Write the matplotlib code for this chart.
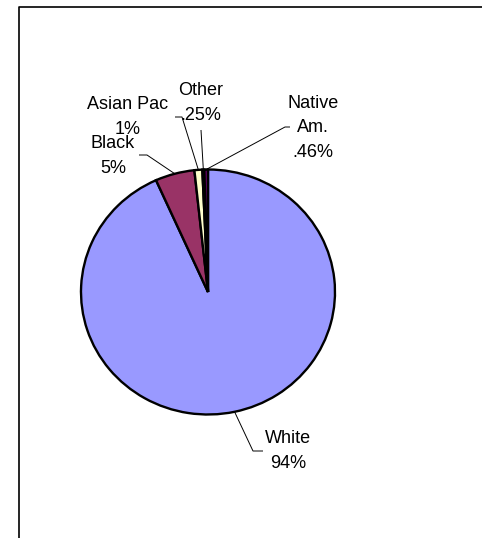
import numpy as np
import matplotlib.pyplot as plt

# -----------------------------
# DATA
# -----------------------------
groups = ["White", "Black", "Asian Pac", "Other", "Native Am."]
shares = [93.3, 5.0, 1.0, 0.25, 0.46]
label_text = ["White\n94%", "Black\n5%", "Asian Pac\n1%", "Other\n.25%", "Native\nAm.\n.46%"]
colors = ["#9999FF", "#993366", "#FFFFCC", "#CCFFFF", "#660066"]

# -----------------------------
# LAYOUT (pixel positions of the label texts and leader elbows)
# -----------------------------
W, H = 482, 538
CX, CY, RX, RY = 208, 292, 127, 122.5

def px(x, y):
    return (x - CX) / RX, (CY - y) / RY

text_pos = [(288, 451), (113, 156), (128, 117), (201, 103), (313, 128)]
elbows = [[(253, 451), (263, 451)],
          [(147, 155), (139, 155)],
          [(182, 117), (175, 117)],
          [(201, 130)],
          [(285, 127), (290, 127)]]

plt.rcParams['font.family'] = ['Liberation Sans', 'DejaVu Sans']

fig = plt.figure(figsize=(W / 100, H / 100), dpi=100)
ax = fig.add_axes([0, 0, 1, 1])

wedges, _ = ax.pie(shares, colors=colors, startangle=90, counterclock=False,
                   wedgeprops=dict(edgecolor="black", linewidth=1.7))
ax.set_aspect('auto')
ax.set_xlim(-CX / RX, (W - CX) / RX)
ax.set_ylim(-(H - CY) / RY, CY / RY)
ax.axis('off')

# leader lines + labels
for w, txt, tp, elb in zip(wedges, label_text, text_pos, elbows):
    mid = np.deg2rad((w.theta1 + w.theta2) / 2)
    xs = [np.cos(mid)] + [px(*p)[0] for p in elb]
    ys = [np.sin(mid)] + [px(*p)[1] for p in elb]
    ax.plot(xs, ys, color="black", lw=0.7, solid_capstyle='butt')
    tx, ty = px(*tp)
    ax.text(tx, ty, txt, ha="center", va="center", fontsize=13,
            linespacing=1.55, color="black")

# chart border (left and top edges visible)
x0, y0 = px(19.5, 6.5)
x1, _ = px(482, 6.5)
_, yb = px(19.5, 540)
ax.plot([x0, x0, x1], [yb, y0, y0], color="black", lw=1.2, clip_on=False)

fig.savefig("out.png", dpi=100)
